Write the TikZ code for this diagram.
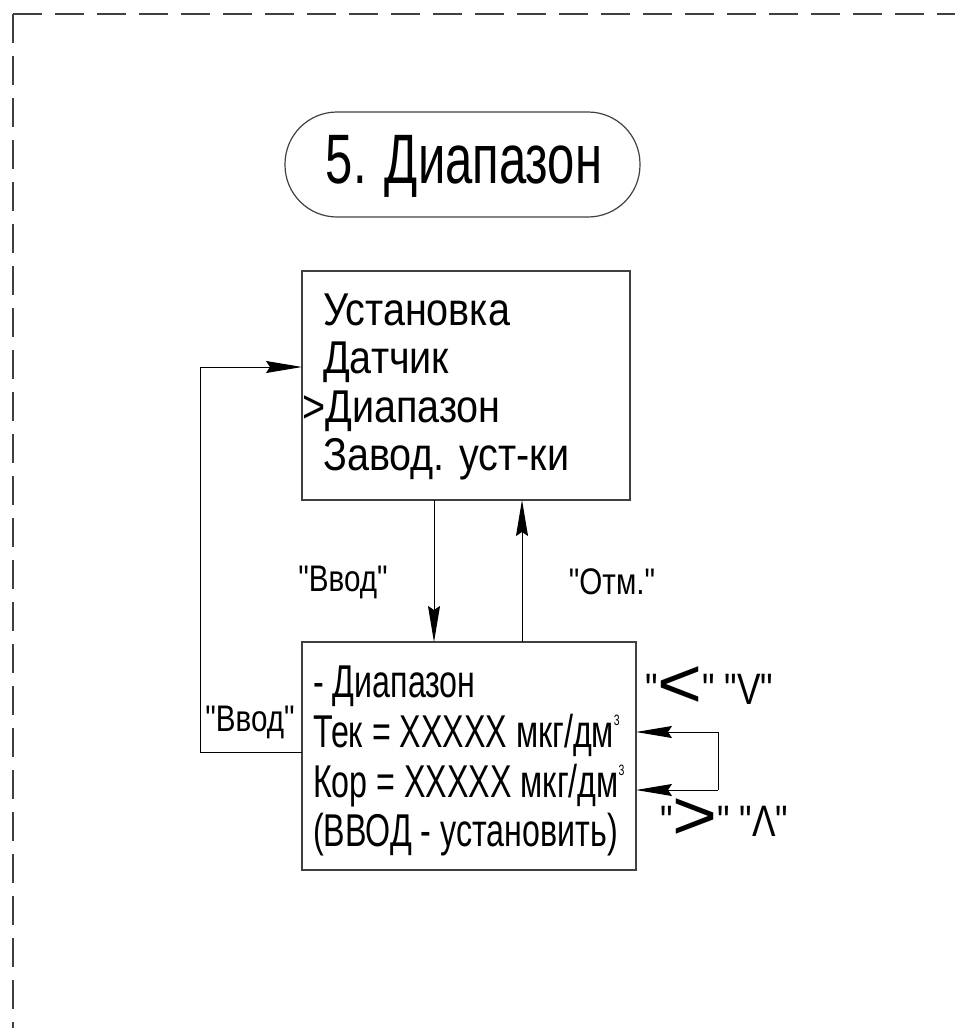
\documentclass[tikz,border=0pt]{standalone}
\usepackage{fontspec}
\usetikzlibrary{arrows.meta}
\newfontfamily\gost{Liberation Sans}[FakeStretch=0.7]
\newfontfamily\gostm{Liberation Sans}[FakeStretch=0.86]
\newfontfamily\gostw{Liberation Sans}[FakeStretch=0.8]
\newfontfamily\gostk{Liberation Sans}[FakeStretch=1.1]
\tikzset{
  boxline/.style={draw=black!75, line width=1.5pt},
  conn/.style={draw=black, line width=1pt, -{Stealth[length=36pt,width=12pt,inset=4pt]}},
  txt/.style={inner sep=0pt, anchor=base west, font=\gost\fontsize{46}{50}\selectfont},
  mtxt/.style={inner sep=0pt, anchor=base west, font=\gostm\fontsize{46}{50}\selectfont},
  lbl/.style={inner sep=0pt, font=\gostw\fontsize{37}{38}\selectfont},
  keylbl/.style={inner sep=0pt, font=\gostw\fontsize{44}{46}\selectfont},
}
\newcommand{\cubed}{\raisebox{22pt}{\fontsize{15}{15}\selectfont 3}}
\newcommand{\bigkey}[1]{\raisebox{-3pt}{\gostk\fontsize{70}{70}\selectfont #1}}
\begin{document}
\begin{tikzpicture}[x=1pt,y=-1pt]
\useasboundingbox (0,0) rectangle (955,1028);
% dashed frame
\draw[black!75, line width=1.5pt, dash pattern=on 29pt off 13pt] (13,14) -- (13,1028);
\draw[black!75, line width=1.5pt, dash pattern=on 29pt off 13pt] (13,14) -- (955,14);
% title
\node[boxline, line width=1.2pt, rounded corners=52pt, minimum width=355pt, minimum height=105pt, inner sep=0pt] (title) at (462.5,164.5) {};
\node[inner sep=0pt, font=\gost\fontsize{70}{72}\selectfont] (titletext) at (464,166) {5. Диапазон};
% top box
\node[boxline, minimum width=328pt, minimum height=229pt, inner sep=0pt] (menu) at (466,385.5) {};
\node[mtxt] (m1) at (323,325) {Установка};
\node[mtxt] (m2) at (323,373) {Датчик};
\node[mtxt] (m3) at (302,422) {>Диапазон};
\node[mtxt] (m4) at (323,470) {Завод. уст-ки};
% bottom box
\node[boxline, minimum width=334pt, minimum height=228pt, inner sep=0pt] (range) at (469,756) {};
\node[txt] (r1) at (313,697) {- Диапазон};
\node[txt] (r2) at (313,747) {Тек = XXXXX мкг/дм\cubed};
\node[txt] (r3) at (313,797) {Кор = XXXXX мкг/дм\cubed};
\node[txt] (r4) at (313,846) {(ВВОД - установить)};
% coordinates
\coordinate (dtop) at (434,500);
\coordinate (dbot) at (434,642);
\coordinate (utop) at (522,500);
\coordinate (ubot) at (522,642);
\coordinate (lstart) at (302,752);
\coordinate (lend) at (302,367);
\coordinate (rtop) at (636,732);
\coordinate (rbot) at (636,790);
% connectors
\draw[conn] (dtop) -- (dbot);
\draw[conn] (ubot) -- (utop);
\draw[conn] (lstart) -- (200,752) -- (200,367) -- (lend);
\draw[conn] (718,790) -- (rbot);
\draw[conn] (718,790) -- (718,732) -- (rtop);
% labels
\node[lbl] (lin) at (343,582) {"Ввод"};
\node[lbl] (lout) at (612,582) {"Отм."};
\node[lbl] (lleft) at (250,722) {"Ввод"};
\node[keylbl, anchor=base west] (lup) at (645,704) {"\bigkey{<}" "V"};
\node[keylbl, anchor=base west] (ldown) at (660,836) {"\bigkey{>}" "Λ"};
\end{tikzpicture}
\end{document}
